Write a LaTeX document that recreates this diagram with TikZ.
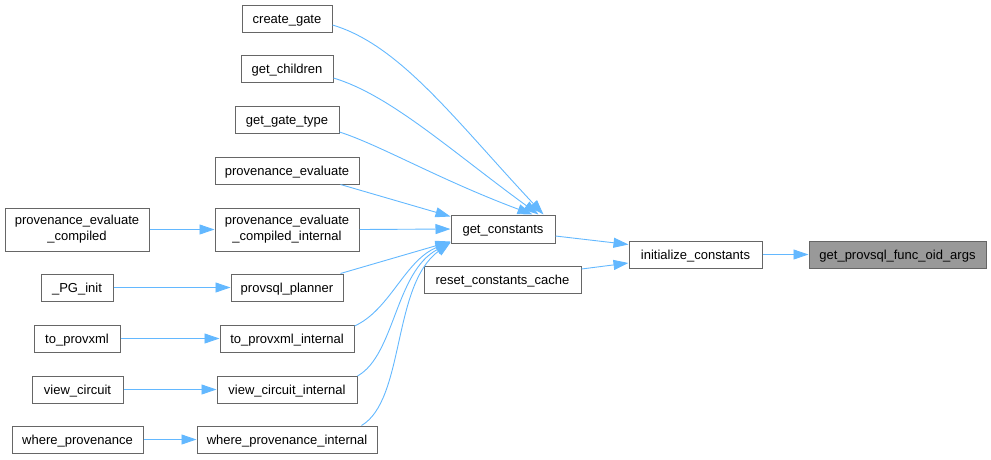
\documentclass[tikz,border=0pt]{standalone}
\usepackage{fontspec}
\setmainfont{Liberation Sans}
\usetikzlibrary{arrows.meta}
\definecolor{edgeblue}{HTML}{63B8FF}
\definecolor{boxborder}{HTML}{666666}
\definecolor{boxgray}{HTML}{999999}
\begin{document}
\begin{tikzpicture}[x=1pt,y=-1pt,
  fnbase/.style={draw=boxborder, line width=1pt, fill=white, inner sep=0pt, minimum height=27pt,
    font=\fontsize{13}{16}\selectfont, text=black},
  fn/.style={fnbase, text height=10.5pt, text depth=1pt},
  fntwo/.style={fnbase, align=center, minimum height=43pt},
  cur/.style={fn, fill=boxgray},
  call/.style={draw=edgeblue, line width=0.9pt, -{Triangle[length=15pt,width=10pt]}}
]
\useasboundingbox (0,0) rectangle (991,459);
% left column
\node[fntwo, minimum width=144pt] (pec) at (77,229.5) {provenance\_evaluate\\\_compiled};
\node[fn, minimum width=72pt] (pgi) at (77,287.5) {\_PG\_init};
\node[fn, minimum width=86pt] (tpx) at (77,338.5) {to\_provxml};
\node[fn, minimum width=91pt] (vc) at (77.5,389.5) {view\_circuit};
\node[fn, minimum width=131pt] (wp) at (77.5,439.5) {where\_provenance};
% middle column
\node[fn, minimum width=90pt] (cg) at (287,18.5) {create\_gate};
\node[fn, minimum width=92pt] (gch) at (287,69) {get\_children};
\node[fn, minimum width=104pt] (ggt) at (287,120) {get\_gate\_type};
\node[fn, minimum width=144pt] (pe) at (287,170.5) {provenance\_evaluate};
\node[fntwo, minimum width=144pt] (peci) at (287,229.5) {provenance\_evaluate\\\_compiled\_internal};
\node[fn, minimum width=112pt] (pp) at (287,287.5) {provsql\_planner};
\node[fn, minimum width=134pt] (tpxi) at (287,338.5) {to\_provxml\_internal};
\node[fn, minimum width=140pt] (vci) at (287,389.5) {view\_circuit\_internal};
\node[fn, minimum width=180pt] (wpi) at (287,439.5) {where\_provenance\_internal};
% right part
\node[fn, minimum width=104pt, minimum height=28pt] (gc) at (503,229) {get\_constants};
\node[fn, minimum width=157pt] (rcc) at (502.5,280) {reset\_constants\_cache};
\node[fn, minimum width=133pt] (ic) at (695.5,254.5) {initialize\_constants};
\node[cur, minimum width=177pt] (gpf) at (897.5,254.5) {get\_provsql\_func\_oid\_args};
% straight edges on the left
\draw[call] (pec.east) -- (peci.west);
\draw[call] (pgi.east) -- (pp.west);
\draw[call] (tpx.east) -- (tpxi.west);
\draw[call] (vc.east) -- (vci.west);
\draw[call] (wp.east) -- (wpi.west);
% edges into get_constants
\draw[call] ([yshift=-6.5pt]cg.east) .. controls (400,45) and (455,120) .. ([xshift=-12pt]gc.north east);
\draw[call] ([yshift=-9pt]gch.east) .. controls (390,95) and (450,150) .. ([xshift=-17pt]gc.north east);
\draw[call] ([yshift=-12pt]ggt.east) .. controls (380,145) and (440,180) .. ([xshift=-23pt]gc.north east);
\draw[call] ([xshift=-19pt]pe.south east) -- ([yshift=-2pt]gc.north west);
\draw[call] (peci.east) -- (gc.west);
\draw[call] ([xshift=-3pt]pp.north east) -- ([yshift=2pt]gc.south west);
\draw[call] ([yshift=-1.5pt]tpxi.north east) .. controls (390,310) and (405,260) .. ([yshift=1.5pt]gc.south west);
\draw[call] ([yshift=-0.5pt]vci.north east) .. controls (395,355) and (395,272) .. ([yshift=1pt]gc.south west);
\draw[call] ([xshift=-16pt]wpi.north east) .. controls (405,400) and (392,285) .. ([yshift=1pt]gc.south west);
% right edges
\draw[call] ([yshift=-7pt]gc.east) -- ([yshift=10pt]ic.west);
\draw[call] ([yshift=11pt]rcc.east) -- ([yshift=-8.5pt]ic.west);
\draw[call] (ic.east) -- (gpf.west);
\end{tikzpicture}
\end{document}
